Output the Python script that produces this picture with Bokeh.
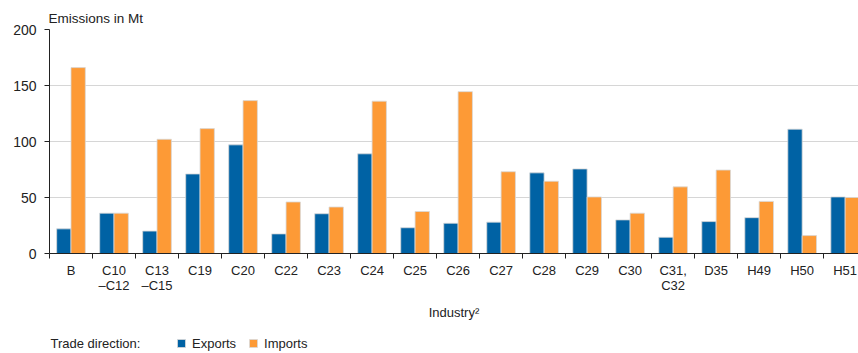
from bokeh.plotting import figure
from bokeh.layouts import column
from bokeh.models import (ColumnDataSource, Range1d, FixedTicker, Legend, LegendItem, Label)
from bokeh.embed import file_html
from bokeh.resources import INLINE

industries = ["B", "C10\n–C12", "C13\n–C15", "C19", "C20", "C22", "C23", "C24", "C25", "C26",
              "C27", "C28", "C29", "C30", "C31,\nC32", "D35", "H49", "H50", "H51"]
exports = [22, 36, 20, 71, 97, 17.5, 35.5, 89, 23, 27, 28, 72, 75.5, 30, 14.5, 28.5, 32, 111, 50.5]
imports = [166, 36, 102, 111.5, 136.5, 46, 41.5, 136, 37.5, 144.5, 73, 64.5, 50.5, 36, 59.5, 74.5, 46.5, 16, 50]
y_ticks = [0, 50, 100, 150, 200]
series_names = ["Exports", "Imports"]

BLUE = "#0062a4"
ORANGE = "#fd9a36"
EDGE = "#d8d8d8"
FONT = "Liberation Sans"
TXT = "#222222"

n = len(industries)
centers = [i + 0.5 for i in range(n)]
src = ColumnDataSource(dict(
    xe=[c - 1 / 6 for c in centers],
    xi=[c + 1 / 6 for c in centers],
    exports=exports,
    imports=imports,
))

p = figure(width=858, height=325, output_backend="svg", toolbar_location=None,
           x_range=Range1d(0, 18.81), y_range=Range1d(0, 200),
           min_border_left=49, min_border_right=0, min_border_top=29, min_border_bottom=72)
p.outline_line_color = None
p.background_fill_color = "white"
p.border_fill_color = "white"

p.title.text = "Emissions in Mt"
p.title.align = "left"
p.title.text_font = FONT
p.title.text_font_size = "13.5px"
p.title.text_font_style = "normal"
p.title.text_color = TXT
p.title.standoff = 8
p.title.offset = -1

p.vbar(x="xe", top="exports", width=1 / 3, source=src, fill_color=BLUE,
       line_color=EDGE, line_width=0.8)
p.vbar(x="xi", top="imports", width=1 / 3, source=src, fill_color=ORANGE,
       line_color=EDGE, line_width=0.8)

# x axis
xa = p.xaxis[0]
xa.ticker = FixedTicker(ticks=centers, minor_ticks=list(range(n + 1)))
xa.major_label_overrides = {c: lab for c, lab in zip(centers, industries)}
xa.major_tick_line_color = None
xa.minor_tick_line_color = "#222222"
xa.minor_tick_out = 5
xa.minor_tick_in = 0
xa.axis_line_color = "#222222"
xa.major_label_text_font = FONT
xa.major_label_text_font_size = "13px"
xa.major_label_text_color = TXT
xa.major_label_text_line_height = 1.05
xa.major_label_standoff = 3
xa.axis_label = "Industry²"
xa.axis_label_text_font = FONT
xa.axis_label_text_font_size = "13px"
xa.axis_label_text_font_style = "normal"
xa.axis_label_text_color = TXT
xa.axis_label_standoff = 9

# y axis
ya = p.yaxis[0]
ya.ticker = FixedTicker(ticks=y_ticks)
ya.minor_tick_line_color = None
ya.major_tick_out = 5
ya.major_tick_in = 0
ya.major_tick_line_color = "#222222"
ya.axis_line_color = "#222222"
ya.major_label_text_font = FONT
ya.major_label_text_font_size = "14px"
ya.major_label_text_color = TXT
ya.major_label_standoff = 8

p.xgrid.grid_line_color = None
p.ygrid.ticker = FixedTicker(ticks=y_ticks)
p.ygrid.grid_line_color = "#d6d6d6"
p.ygrid.grid_line_width = 1.2

# legend row (separate strip so nothing is clipped; its frame aligns with the chart frame)
lf = figure(width=858, height=28, output_backend="svg", toolbar_location=None,
            x_range=Range1d(0, 1), y_range=Range1d(0, 1),
            x_axis_location=None, y_axis_location=None,
            min_border_left=0, min_border_right=0, min_border_top=0, min_border_bottom=0)
lf.outline_line_color = None
lf.xgrid.grid_line_color = None
lf.ygrid.grid_line_color = None
lf.border_fill_color = "white"
lf.background_fill_color = "white"

# off-range legend proxies (not visible inside the strip)
proxy = ColumnDataSource(dict(x=[-5.0], top=[0.0]))
k_e = lf.vbar(x="x", top="top", width=0.1, source=proxy, fill_color=BLUE, line_color=EDGE, line_width=0.8)
k_i = lf.vbar(x="x", top="top", width=0.1, source=proxy, fill_color=ORANGE, line_color=EDGE, line_width=0.8)

lf.add_layout(Label(x=1, y=10, x_units="screen", y_units="screen",
                    text="Trade direction:", text_font=FONT, text_font_size="13px",
                    text_color=TXT, text_baseline="middle", text_align="left"))

legend = Legend(items=[LegendItem(label=series_names[0], renderers=[k_e]),
                       LegendItem(label=series_names[1], renderers=[k_i])],
                orientation="horizontal", location=(127, 2),
                border_line_color=None, background_fill_alpha=0,
                padding=0, margin=0, spacing=12,
                glyph_width=10, glyph_height=10, label_standoff=6,
                label_text_font=FONT, label_text_font_size="13px", label_text_color=TXT,
                label_height=16)
lf.add_layout(legend, "center")

page = column(p, lf, spacing=0)
page.styles = {"position": "absolute", "left": "0px", "top": "0px"}

open("out.html", "w").write(file_html(page, INLINE))
